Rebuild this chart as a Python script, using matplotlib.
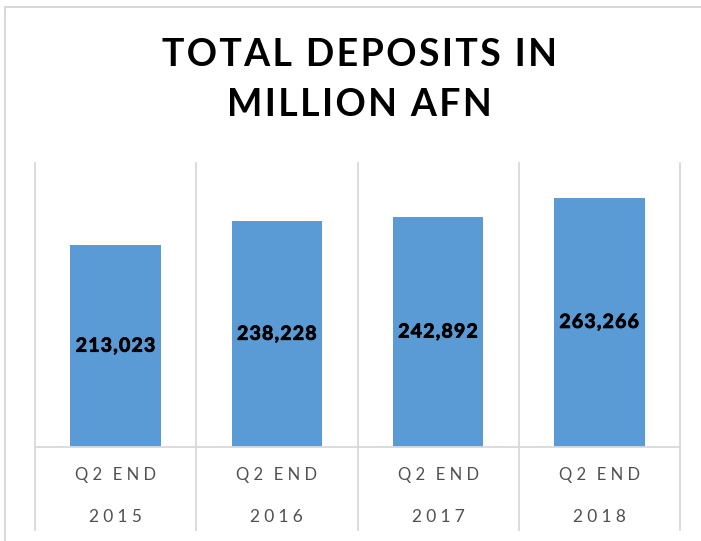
import numpy as np
import matplotlib
matplotlib.use("Agg")
import matplotlib.pyplot as plt
import matplotlib.patheffects as pe
from matplotlib.lines import Line2D

# ---- data ----
title_lines = ["TOTAL DEPOSITS IN", "MILLION AFN"]
quarters = ["Q2 END", "Q2 END", "Q2 END", "Q2 END"]
years = ["2015", "2016", "2017", "2018"]
values = [213023, 238228, 242892, 263266]

BAR = "#5B9BD5"
GRID = "#D9D9D9"
TXT = "#505050"
FONT = ["Lato", "DejaVu Sans"]

HAIR = "\u200a"
THIN = "\u2009"


def track(s, sep):
    return sep.join(s)


W, H = 701, 541
fig = plt.figure(figsize=(W / 100, H / 100), dpi=100)
fig.patch.set_facecolor("white")

# chart-area frame (top + left visible)
fig.add_artist(Line2D([5 / W, 5 / W], [0, (H - 7) / H], color=GRID, lw=1.5,
                      transform=fig.transFigure))
fig.add_artist(Line2D([5 / W, 1], [(H - 7) / H, (H - 7) / H], color=GRID, lw=1.5,
                      transform=fig.transFigure))

ax = fig.add_axes([35 / W, (H - 447) / H, (680 - 35) / W, (447 - 163) / H])
x = np.arange(len(values))
ax.bar(x, values, width=0.56, color=BAR, zorder=2)
ax.set_xlim(-0.5, len(values) - 0.5)
ax.set_ylim(0, 300000)

for s in ["top", "left", "right"]:
    ax.spines[s].set_visible(False)
ax.spines["bottom"].set_color(GRID)
ax.spines["bottom"].set_linewidth(1.3)
ax.set_yticks([])
ax.set_xticks([])

# category separators extending through the label area
for b in np.arange(len(values) + 1) - 0.5:
    ax.plot([b, b], [1, -0.292], transform=ax.get_xaxis_transform(),
            color=GRID, lw=1.3, clip_on=False, zorder=1)

tr = ax.get_xaxis_transform()
heavy = [pe.withStroke(linewidth=0.6, foreground="black")]
for i, (q, y, v) in enumerate(zip(quarters, years, values)):
    ax.text(i, v / 2, track(f"{v:,}", HAIR), ha="center", va="center",
            fontsize=14, fontweight="bold", family=FONT, color="black",
            zorder=3, path_effects=heavy)
    qs = "  \u2009".join(track(w, THIN + THIN) for w in q.split(" "))
    ax.text(i, -0.098, qs, ha="center", va="center", fontsize=12,
            family=FONT, color=TXT, transform=tr)
    ax.text(i, -0.246, track(y, THIN + THIN), ha="center", va="center",
            fontsize=12.5, family=FONT, color=TXT, transform=tr)

title = "\n".join(track(l, HAIR) for l in title_lines)
fig.text(359 / W, (H - 80) / H, title, ha="center", va="center", fontsize=27,
         fontweight="bold", family=FONT, color="black", linespacing=1.6)

fig.savefig("out.png", dpi=100)
